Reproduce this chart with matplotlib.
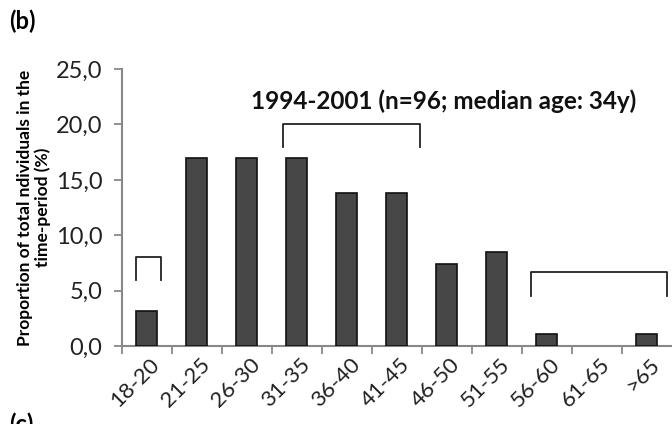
import matplotlib
matplotlib.use("Agg")
import matplotlib.pyplot as plt
import matplotlib.transforms as mtransforms

plt.rcParams['font.family'] = ['Lato', 'DejaVu Sans']

# ---------- data ----------
age_groups = ["18-20", "21-25", "26-30", "31-35", "36-40", "41-45",
              "46-50", "51-55", "56-60", "61-65", ">65"]
proportion = [3.2, 17.0, 17.0, 17.0, 13.8, 13.8, 7.4, 8.5, 1.1, 0.0, 1.1]
y_ticks = [0, 5, 10, 15, 20, 25]
y_ticklabels = ["0,0", "5,0", "10,0", "15,0", "20,0", "25,0"]
title = "1994-2001 (n=96; median age: 34y)"
ylabel = "Proportion of total ndividuals in the\ntime-period (%)"

# brackets: (x_left, x_right, y_top, y_bottom) in data units
brackets = [(-0.22, 0.28, 8.0, 6.0),
            (2.72, 5.46, 20.0, 18.0),
            (7.68, 10.4, 6.7, 4.5)]

axis_grey = "#888888"

fig = plt.figure(figsize=(6.72, 4.24), dpi=100)
ax = fig.add_axes([0.181, 0.184, 0.819, 0.653])

x = list(range(len(age_groups)))
edge_w = [1.2 if v > 0 else 0 for v in proportion]  # no outline for empty groups
ax.bar(x, proportion, width=0.42, color="#474747", edgecolor="#111111", linewidth=edge_w, zorder=3)

for xl, xr, yt, yb in brackets:
    ax.plot([xl, xl, xr, xr], [yb, yt, yt, yb], color="#222222", lw=1.3, clip_on=False)

ax.set_xlim(-0.5, 10.5)
ax.set_ylim(0, 25)
ax.set_yticks(y_ticks)
ax.set_yticklabels(y_ticklabels, fontsize=17, color="#222222")

# x ticks sit between categories, labels at category centres
ax.set_xticks([i - 0.5 for i in range(len(age_groups))])
ax.set_xticklabels([])
ax.set_xticks(x, minor=True)
ax.set_xticklabels(age_groups, minor=True, rotation=45, ha="right", va="center",
                   rotation_mode="anchor", fontsize=16, color="#222222")
ax.tick_params(axis="x", which="minor", length=0, pad=11)
ax.tick_params(axis="x", which="major", direction="out", length=6, width=1.3, color=axis_grey)
ax.tick_params(axis="y", direction="out", length=6, width=1.3, color=axis_grey, pad=8)

offset = mtransforms.ScaledTranslation(0.10, 0, fig.dpi_scale_trans)
for lab in ax.get_xticklabels(minor=True):
    lab.set_transform(lab.get_transform() + offset)

for side in ("top", "right"):
    ax.spines[side].set_visible(False)
for side in ("left", "bottom"):
    ax.spines[side].set_color(axis_grey)
    ax.spines[side].set_linewidth(1.5)

ax.set_ylabel(ylabel, fontsize=12.5, fontweight="bold", linespacing=1.15)
ax.yaxis.set_label_coords(-0.128, 0.5)
ax.text(0.585, 0.885, title, transform=ax.transAxes, ha="center", va="center",
        fontsize=17.5, fontweight="bold", color="#111111")

fig.text(0.014, 0.95, "(b)", fontsize=17, fontweight="bold", va="center")
fig.text(0.014, 0.0, "(c)", fontsize=17, fontweight="bold", va="center")

fig.savefig("out.png", dpi=100)
